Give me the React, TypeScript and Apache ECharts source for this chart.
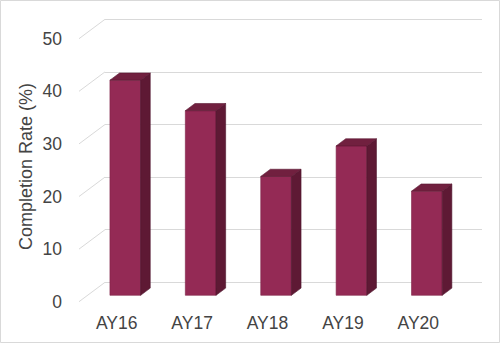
import React, { useEffect, useRef } from "react";
import * as echarts from "echarts";

const CATEGORIES = ["AY16", "AY17", "AY18", "AY19", "AY20"];
const VALUES = [40.9, 35.1, 22.6, 28.4, 19.8];
const Y_TICKS = [0, 10, 20, 30, 40, 50];
const Y_TITLE = "Completion Rate (%)";

// perspective depth of the floor/back wall (px)
const DEPTH_X = 26;
const DEPTH_Y = -19.4;
const BAR_FRONT = 0.33; // depth fraction of bar front face
const BAR_DEPTH = 0.37; // depth fraction of bar thickness
const BAR_WIDTH = 0.407; // fraction of category band

const FRONT = "#942A55";
const SIDE = "#5E1934";
const TOP = "#71203F";
const GRID = "#d9d9d9";
const TEXT = "#444444";
const FONT = "'Liberation Sans', Arial, sans-serif";

export default function App() {
  const ref = useRef<HTMLDivElement>(null);
  useEffect(() => {
    if (!ref.current) return;
    const chart = echarts.init(ref.current, undefined, { renderer: "svg" });
    const option: any = {
      animation: false,
      backgroundColor: "#ffffff",
      textStyle: { fontFamily: FONT },
      grid: [
        { left: 105, right: 18, top: 19.3, bottom: 60.7 },
        { left: 79, right: 44, top: 38.7, bottom: 41.3 },
      ],
      xAxis: [
        {
          gridIndex: 0,
          type: "category",
          data: CATEGORIES,
          show: false,
        },
        {
          gridIndex: 1,
          type: "category",
          data: CATEGORIES,
          axisLine: { show: false },
          axisTick: { show: false },
          splitLine: { show: false },
          axisLabel: { fontSize: 17.5, color: TEXT, margin: 12, fontFamily: FONT },
        },
      ],
      yAxis: [
        {
          gridIndex: 0,
          type: "value",
          min: 0,
          max: 50,
          interval: 10,
          axisLine: { show: false },
          axisTick: { show: false },
          axisLabel: { show: false },
          splitLine: { show: true, lineStyle: { color: GRID, width: 1 } },
        },
        {
          gridIndex: 1,
          type: "value",
          min: 0,
          max: 50,
          interval: 10,
          axisLine: { show: false },
          axisTick: { show: false },
          splitLine: { show: false },
          axisLabel: { fontSize: 17.5, color: TEXT, margin: 17, fontFamily: FONT },
        },
      ],
      graphic: [
        {
          type: "rect",
          shape: { x: 0.5, y: 0.5, width: 499, height: 342 },
          style: { fill: "none", stroke: GRID, lineWidth: 1 },
          silent: true,
        },
        {
          type: "text",
          x: 26,
          y: 166.5,
          rotation: Math.PI / 2,
          style: {
            text: Y_TITLE,
            fill: TEXT,
            fontSize: 18,
            fontFamily: FONT,
            textAlign: "center",
            textVerticalAlign: "middle",
          },
        },
      ],
      series: [
        {
          type: "custom",
          xAxisIndex: 1,
          yAxisIndex: 1,
          z: 1,
          data: Y_TICKS.map((t) => [0, t]),
          renderItem: (params: any, api: any) => {
            const p = api.coord([0, api.value(1)]);
            const x = params.coordSys.x;
            return {
              type: "line",
              shape: { x1: x, y1: p[1], x2: x + DEPTH_X, y2: p[1] + DEPTH_Y },
              style: { stroke: GRID, lineWidth: 1 },
            };
          },
        },
        {
          type: "custom",
          xAxisIndex: 1,
          yAxisIndex: 1,
          z: 2,
          data: VALUES.map((v, i) => [i, v]),
          renderItem: (params: any, api: any) => {
            const i = api.value(0);
            const v = api.value(1);
            const base = api.coord([i, 0]);
            const top = api.coord([i, v]);
            const band = api.size([1, 0])[0];
            const w = band * BAR_WIDTH;
            const fx = DEPTH_X * BAR_FRONT;
            const fy = DEPTH_Y * BAR_FRONT;
            const sx = DEPTH_X * BAR_DEPTH;
            const sy = DEPTH_Y * BAR_DEPTH;
            const x0 = base[0] - w / 2 + fx;
            const x1 = base[0] + w / 2 + fx;
            const yt = top[1] + fy;
            const yb = base[1] + fy;
            return {
              type: "group",
              children: [
                {
                  type: "polygon",
                  shape: { points: [[x0, yt], [x1, yt], [x1, yb], [x0, yb]] },
                  style: { fill: FRONT, stroke: "#7d2247", lineWidth: 0.6 },
                },
                {
                  type: "polygon",
                  shape: { points: [[x1, yt], [x1 + sx, yt + sy], [x1 + sx, yb + sy], [x1, yb]] },
                  style: { fill: SIDE, stroke: "#4e142b", lineWidth: 0.6 },
                },
                {
                  type: "polygon",
                  shape: { points: [[x0, yt], [x0 + sx, yt + sy], [x1 + sx, yt + sy], [x1, yt]] },
                  style: { fill: TOP, stroke: "#5a1833", lineWidth: 0.6 },
                },
              ],
            };
          },
        },
      ],
    };
    chart.setOption(option);
    return () => chart.dispose();
  }, []);
  return (
    <div
      ref={ref}
      style={{ position: "fixed", left: 0, top: 0, width: 500, height: 343 }}
    />
  );
}
